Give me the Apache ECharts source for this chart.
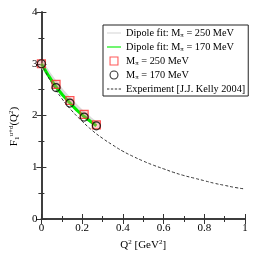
<!DOCTYPE html>
<html><head><meta charset="utf-8">
<script src="https://cdn.jsdelivr.net/npm/echarts@6/dist/echarts.min.js"></script>
<style>html,body{margin:0;padding:0;background:#fff}#c{width:258px;height:258px}</style>
</head><body><div id="c"></div>
<script>
// Lattice points
const q2Lattice = [0, 0.072, 0.14, 0.21, 0.27];
const f1M250 = [3.0, 2.60, 2.29, 2.02, 1.82];
const f1M170 = [3.0, 2.54, 2.24, 1.97, 1.80];
// Dipole fits
const fitQ2 = [0, 0.035, 0.072, 0.105, 0.14, 0.175, 0.21, 0.24, 0.27];
const fitM250 = [3.0, 2.80, 2.60, 2.44, 2.29, 2.15, 2.02, 1.92, 1.83];
const fitM170 = [3.0, 2.77, 2.55, 2.39, 2.24, 2.10, 1.98, 1.89, 1.80];
// Experiment (Kelly 2004)
const expQ2 = [0, 0.05, 0.1, 0.15, 0.2, 0.25, 0.3, 0.35, 0.4, 0.45, 0.5, 0.55, 0.6, 0.65, 0.7, 0.75, 0.8, 0.85, 0.9, 0.95, 1.0];
const expF1 = [3.0, 2.63, 2.33, 2.09, 1.89, 1.71, 1.56, 1.43, 1.31, 1.21, 1.12, 1.04, 0.97, 0.90, 0.84, 0.79, 0.74, 0.69, 0.65, 0.61, 0.58];
const xTicks = [0, 0.2, 0.4, 0.6, 0.8, 1];
const yTicks = [0, 1, 2, 3, 4];

const names = ['Dipole fit: M{s|π} = 250 MeV', 'Dipole fit: M{s|π} = 170 MeV', 'M{s|π} = 250 MeV', 'M{s|π} = 170 MeV', 'Experiment [J.J. Kelly 2004]'];
const zip = (a, b) => a.map((v, i) => [v, b[i]]);
const font = 'Liberation Serif';
const axCommon = {
  axisLine: {lineStyle: {color: '#333', width: 1.5}},
  axisTick: {inside: true, length: 5, lineStyle: {color: '#333'}},
  minorTick: {show: true, splitNumber: 2, length: 3, lineStyle: {color: '#333'}},
  splitLine: {show: false}
};
const lineIcon = 'path://M0,0h20v1.6h-20z';
const dashIcon = 'path://M0,0h3v1h-3zM5,0h3v1h-3zM10,0h3v1h-3zM15,0h3v1h-3z';
const sqIcon = 'path://M0,0h10v10h-10zM1.2,1.2v7.6h7.6v-7.6z';
const ringIcon = 'path://M5,0A5,5,0,1,1,5,10A5,5,0,1,1,5,0zM5,1.2A3.8,3.8,0,1,0,5,8.8A3.8,3.8,0,1,0,5,1.2z';
const chart = echarts.init(document.getElementById('c'));
chart.setOption({
  animation: false,
  grid: {left: 38, right: 13, top: 12, bottom: 39},
  xAxis: [
    Object.assign({type: 'value', min: 0, max: 1, interval: 0.2,
      name: 'Q{p|2} [GeV{p|2}]', nameLocation: 'middle', nameGap: 19,
      nameTextStyle: {fontFamily: font, fontSize: 11, color: '#000', rich: {p: {fontSize: 7, fontFamily: font, verticalAlign: 'top', padding: [0, 0, 6, 0]}}},
      axisLabel: {fontFamily: font, fontSize: 11, color: '#000', margin: 4,
        formatter: v => { const t = xTicks.find(x => Math.abs(x - v) < 1e-9); return t === undefined ? '' : String(t); }}
    }, axCommon),
    Object.assign({type: 'value', min: 0, max: 1, interval: 0.2, position: 'top', axisLabel: {show: false}}, axCommon)
  ],
  yAxis: [
    Object.assign({type: 'value', min: 0, max: 4, interval: 1,
      name: 'F{b|1}{p|u+d}(Q{p|2})', nameLocation: 'middle', nameGap: 20, nameRotate: 90,
      nameTextStyle: {fontFamily: font, fontSize: 11, color: '#000', padding: [0, 0, 0, -22],
        rich: {p: {fontSize: 7, fontFamily: font, padding: [0, 0, 6, 0]}, b: {fontSize: 7, fontFamily: font, padding: [6, 0, 0, 0]}}},
      axisLabel: {fontFamily: font, fontSize: 11, color: '#000', margin: 4,
        formatter: v => { const t = yTicks.find(x => Math.abs(x - v) < 1e-9); return t === undefined ? '' : String(t); }}
    }, axCommon),
    Object.assign({type: 'value', min: 0, max: 4, interval: 1, position: 'right', axisLabel: {show: false}}, axCommon)
  ],
  legend: {
    orient: 'vertical', left: 103, top: 25, width: 142,
    backgroundColor: '#fff', borderColor: '#222', borderWidth: 1,
    padding: [3, 3, 2, 4], itemGap: 3, itemWidth: 14, itemHeight: 9,
    textStyle: {fontFamily: font, fontSize: 10.3, color: '#000', padding: [0, 0, 0, 0],
      rich: {s: {fontSize: 7, fontFamily: font, padding: [5, 0, 0, 0]}}},
    data: [
      {name: names[0], icon: lineIcon, itemStyle: {color: '#d8d8d8', borderWidth: 0}},
      {name: names[1], icon: lineIcon, itemStyle: {color: '#00ee00', borderWidth: 0}},
      {name: names[2], icon: sqIcon, itemStyle: {color: '#ff3030', borderWidth: 0}},
      {name: names[3], icon: ringIcon, itemStyle: {color: '#000', borderWidth: 0}},
      {name: names[4], icon: dashIcon, itemStyle: {color: '#333', borderWidth: 0}}
    ]
  },
  series: [
    {name: names[0], type: 'line', symbol: 'none', data: zip(fitQ2, fitM250),
      lineStyle: {color: '#dcdcdc', width: 5}, itemStyle: {color: '#dcdcdc'}, z: 1},
    {name: names[1], type: 'line', symbol: 'none', data: zip(fitQ2, fitM170),
      lineStyle: {color: '#00ee00', width: 3}, itemStyle: {color: '#00ee00'}, z: 2},
    {name: names[4], type: 'line', symbol: 'none', smooth: true, data: zip(expQ2, expF1),
      lineStyle: {color: '#333', width: 1, type: [3, 2]}, itemStyle: {color: '#333'}, z: 3},
    {name: names[2], type: 'scatter', symbol: 'rect', symbolSize: 8, data: zip(q2Lattice, f1M250),
      itemStyle: {color: 'rgba(255,120,120,0.45)', borderColor: '#ff3030', borderWidth: 1.2}, z: 4},
    {name: names[3], type: 'scatter', symbol: 'circle', symbolSize: 8, data: zip(q2Lattice, f1M170),
      itemStyle: {color: 'rgba(0,0,0,0)', borderColor: '#000', borderWidth: 1.2}, z: 5}
  ]
});
</script></body></html>
